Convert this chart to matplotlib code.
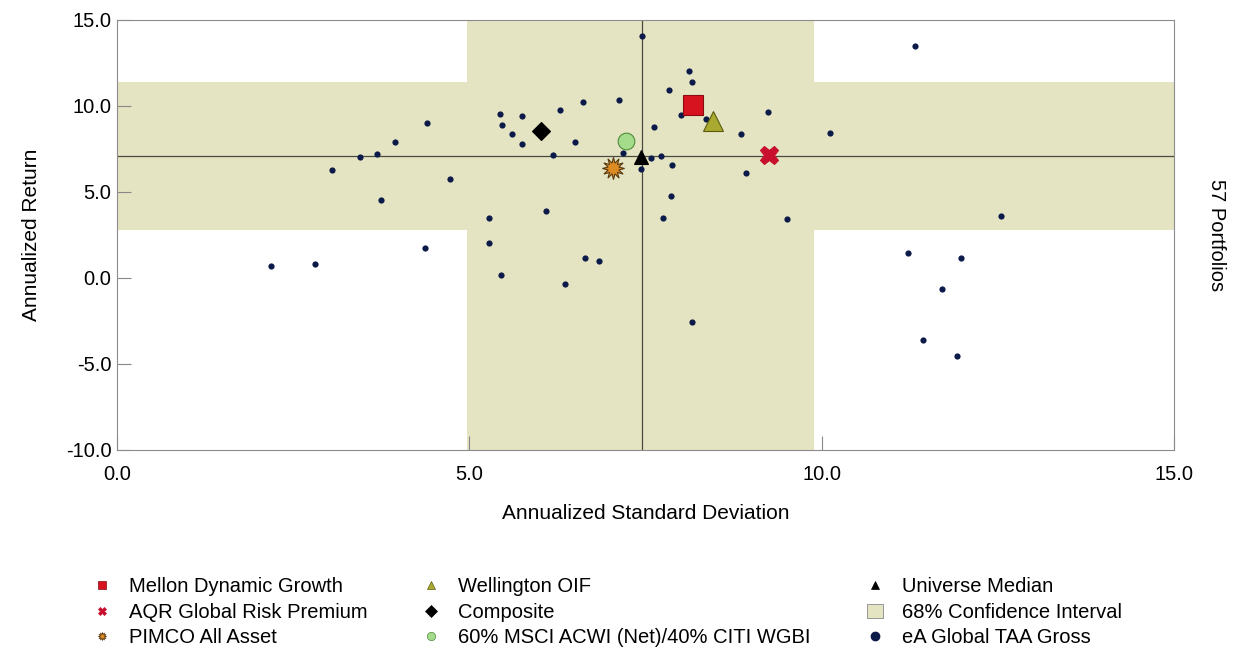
import numpy as np
import matplotlib.pyplot as plt
from matplotlib.lines import Line2D
from matplotlib.patches import Rectangle

plt.rcParams['font.family'] = ['Liberation Sans', 'DejaVu Sans']

# universe of portfolios (annualized std dev, annualized return)
universe_sd = [2.18, 2.81, 3.05, 3.45, 3.69, 3.94, 3.74, 4.40, 4.37, 4.73,
               5.43, 5.46, 5.60, 5.74, 5.75, 5.28, 5.28, 5.45, 6.09, 7.45,
               8.11, 8.16, 7.83, 7.12, 6.61, 6.29, 6.50, 6.18, 7.18, 7.62,
               8.00, 8.36, 9.23, 8.86, 10.12, 7.58, 7.72, 7.44, 7.87, 8.92,
               7.86, 7.75, 9.50, 6.64, 6.84, 6.36, 8.16, 11.32, 12.54, 11.22,
               11.97, 11.71, 11.44, 11.92]
universe_ret = [0.69, 0.80, 6.25, 7.01, 7.18, 7.88, 4.51, 9.02, 1.73, 5.71,
                9.51, 8.85, 8.36, 9.41, 7.80, 3.46, 2.02, 0.15, 3.88, 14.02,
                12.02, 11.35, 10.90, 10.34, 10.19, 9.72, 7.90, 7.14, 7.24, 8.77,
                9.45, 9.20, 9.66, 8.33, 8.44, 6.95, 7.08, 6.31, 6.54, 6.09,
                4.78, 3.46, 3.44, 1.17, 1.00, -0.36, -2.59, 13.46, 3.59, 1.44,
                1.17, -0.65, -3.63, -4.56]

# highlighted managers / benchmarks
names = ["Mellon Dynamic Growth", "AQR Global Risk Premium", "PIMCO All Asset",
         "Wellington OIF", "Composite", "60% MSCI ACWI (Net)/40% CITI WGBI",
         "Universe Median"]
sd = [8.17, 9.25, 7.04, 8.46, 6.01, 7.22, 7.43]
ret = [10.05, 7.12, 6.36, 9.12, 8.52, 7.94, 7.02]

# 68% confidence interval and medians
ci_sd = (4.97, 9.89)
ci_ret = (2.76, 11.38)
median_sd = 7.45
median_ret = 7.06

styles = [
    dict(marker='s', color='#d7131f', edge='#8a0a10', size=15),
    dict(marker='X', color='#c8102e', edge='#c8102e', size=13),
    dict(marker=(12, 1, 0), color='#dc8a22', edge='#5a3a10', size=16),
    dict(marker='^', color='#a9aa2f', edge='#5c5c10', size=14),
    dict(marker='D', color='black', edge='black', size=9),
    dict(marker='o', color='#a4dc8c', edge='#4f8a3a', size=12),
    dict(marker='^', color='black', edge='black', size=10),
]

band = '#e4e4c3'
dot = '#0b1a48'

fig = plt.figure(figsize=(12.36, 6.53), dpi=100)
ax = fig.add_axes([0.0946, 0.311, 0.8554, 0.659])

ax.axvspan(ci_sd[0], ci_sd[1], color=band, lw=0, zorder=0)
ax.axhspan(ci_ret[0], ci_ret[1], color=band, lw=0, zorder=0)
ax.axvline(median_sd, color='#4a4a40', lw=0.9, zorder=1)
ax.axhline(median_ret, color='#4a4a40', lw=0.9, zorder=1)

ax.scatter(universe_sd, universe_ret, s=20, color=dot, zorder=3, lw=0)
for x, y, st in zip(sd, ret, styles):
    ax.plot(x, y, linestyle='none', marker=st['marker'], markersize=st['size'],
            markerfacecolor=st['color'], markeredgecolor=st['edge'],
            markeredgewidth=0.8, zorder=4)

ax.set_xlim(0, 15)
ax.set_ylim(-10, 15)
ax.set_xticks(np.arange(0, 15.1, 5))
ax.set_yticks(np.arange(-10, 15.1, 5))
ax.set_xticklabels([f"{v:.1f}" for v in np.arange(0, 15.1, 5)])
ax.set_yticklabels([f"{v:.1f}" for v in np.arange(-10, 15.1, 5)])
ax.tick_params(direction='in', length=10, color='#888888', labelsize=14.5)
ax.tick_params(axis='y', pad=4)
ax.tick_params(axis='x', pad=11)
for s in ax.spines.values():
    s.set_color('#8c8c8c')
ax.set_xlabel("Annualized Standard Deviation", fontsize=15, labelpad=14)
ax.set_ylabel("Annualized Return", fontsize=15, labelpad=18)
ax2 = ax.twinx()
ax2.set_yticks([])
ax2.set_ylabel("57 Portfolios", rotation=-90, fontsize=14.5, labelpad=37)
for s in ax2.spines.values():
    s.set_visible(False)

handles = []
for name, st in zip(names, styles):
    handles.append(Line2D([], [], linestyle='none', marker=st['marker'],
                          markersize=6, markerfacecolor=st['color'],
                          markeredgecolor=st['edge'], markeredgewidth=0.5,
                          label=name))
handles.append(Rectangle((0, 0), 1, 1, facecolor=band, edgecolor='#888888',
                         lw=0.6, label="68% Confidence Interval"))
handles.append(Line2D([], [], linestyle='none', marker='o', markersize=6,
                      markerfacecolor=dot, markeredgecolor=dot,
                      label="eA Global TAA Gross"))

# one legend per column so each column can sit where the original has it
col_x = [0.0761, 0.3422, 0.7015]
for i, x0 in enumerate(col_x):
    fig.legend(handles=handles[3 * i:3 * i + 3], loc='upper left',
               bbox_to_anchor=(x0, 0.1157), frameon=False, fontsize=14.5,
               handlelength=0.8, handletextpad=0.95, labelspacing=0.32,
               borderaxespad=0, borderpad=0)

fig.savefig("out.png", dpi=100)
